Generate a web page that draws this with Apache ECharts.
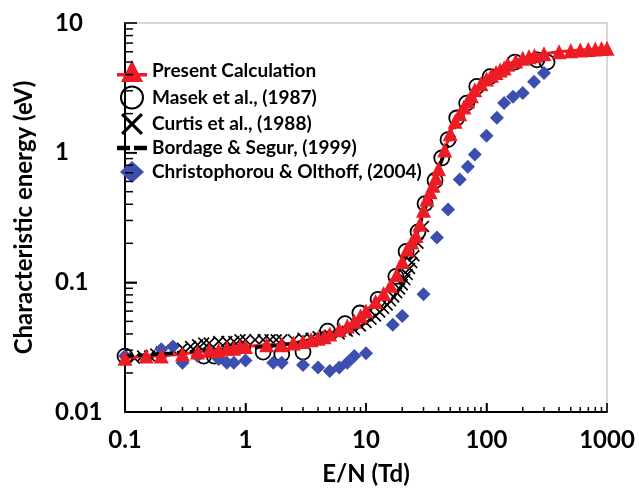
<!DOCTYPE html>
<html>
<head>
<meta charset="utf-8">
<script src="https://cdn.jsdelivr.net/npm/echarts@6/dist/echarts.min.js"></script>
<style>
    html, body {margin: 0; padding: 0; background: #fff;}
    #chart {width: 639px; height: 491px;}
</style>
</head>
<body>
<div id="chart"></div>
<script>
// E/N (Td) and characteristic energy (eV)
var presentEN = [0.1, 0.15, 0.2, 0.3, 0.4, 0.5, 0.6, 0.7, 0.8, 0.9, 1, 1.5, 2, 2.5, 3, 3.5, 4, 4.5, 5, 6, 7, 8, 9, 10,
    12, 14, 16, 18, 20, 22, 24, 26, 28, 30, 32, 34, 36, 38, 40, 45, 50, 55, 60, 65, 70, 75, 80, 90, 100,
    110, 120, 130, 140, 150, 175, 200, 225, 250, 300, 400, 500, 600, 700, 800, 900, 1000];
var presentEk = [0.026, 0.027, 0.027, 0.028, 0.029, 0.03, 0.03, 0.031, 0.031, 0.032, 0.032, 0.033, 0.033, 0.034, 0.035, 0.036, 0.037, 0.038, 0.04, 0.043, 0.046, 0.05, 0.055, 0.06,
    0.071, 0.082, 0.095, 0.115, 0.145, 0.18, 0.205, 0.23, 0.28, 0.36, 0.44, 0.5, 0.56, 0.64, 0.75, 1.05, 1.4, 1.75, 2.0, 2.25, 2.5, 2.75, 3.05, 3.4, 3.7,
    3.95, 4.15, 4.35, 4.5, 4.8, 5.1, 5.35, 5.5, 5.6, 5.8, 6.0, 6.1, 6.2, 6.25, 6.3, 6.35, 6.4];

var masekEN = [0.1, 0.45, 0.55, 1.4, 2, 3, 4.8, 6.7, 8.9, 12.6, 17.7, 21.5, 27, 30.9, 37.4, 42.5, 47.9, 56.6, 68.5, 83, 107, 172, 262, 318];
var masekEk = [0.027, 0.027, 0.027, 0.029, 0.028, 0.029, 0.042, 0.048, 0.058, 0.074, 0.111, 0.173, 0.245, 0.405, 0.61, 0.91, 1.26, 1.85, 2.41, 3.24, 3.86, 5.0, 5.2, 5.0];

var curtisEN = [0.12, 0.14, 0.16, 0.18, 0.2, 0.25, 0.3, 0.35, 0.4, 0.45, 0.5, 0.6, 0.7, 0.8, 0.9, 1, 1.2, 1.4, 1.6, 1.8, 2, 2.5, 3, 3.5, 4, 4.5, 5,
    6, 7, 8, 9, 10, 11, 12, 13, 14, 15, 16, 17, 18, 19, 20, 21, 22, 23, 24, 25, 27, 30];
var curtisEk = [0.026, 0.027, 0.027, 0.028, 0.029, 0.03, 0.031, 0.032, 0.033, 0.034, 0.034, 0.035, 0.035, 0.035, 0.036, 0.036, 0.036, 0.036, 0.036, 0.036, 0.036, 0.036, 0.037, 0.037, 0.038, 0.039, 0.039,
    0.04, 0.042, 0.043, 0.046, 0.049, 0.052, 0.055, 0.059, 0.063, 0.067, 0.072, 0.077, 0.083, 0.089, 0.096, 0.105, 0.115, 0.128, 0.142, 0.16, 0.2, 0.27];

var bordageEN = [0.1, 0.2, 0.5, 1, 2, 3, 5, 7, 10, 12, 15, 20, 25, 30, 35, 40, 45, 50, 60, 70, 80, 100, 120, 150, 200, 250, 300];
var bordageEk = [0.027, 0.028, 0.03, 0.031, 0.033, 0.035, 0.04, 0.046, 0.058, 0.068, 0.088, 0.14, 0.21, 0.34, 0.52, 0.75, 1.0, 1.3, 1.9, 2.45, 3.0, 3.7, 4.1, 4.6, 5.0, 5.15, 5.2];

var christoEN = [0.1, 0.2, 0.25, 0.3, 0.4, 0.5, 0.6, 0.7, 0.8, 1, 1.7, 2, 3, 4, 5, 6, 7, 8, 10, 16.7, 20, 30, 38.8, 48, 60, 70, 80, 100, 122, 140, 166, 200, 248, 300];
var christoEk = [0.027, 0.0305, 0.032, 0.024, 0.027, 0.029, 0.0256, 0.024, 0.024, 0.025, 0.024, 0.024, 0.023, 0.022, 0.0207, 0.022, 0.024, 0.027, 0.0284, 0.047, 0.055, 0.081, 0.222, 0.365, 0.62, 0.78, 0.97, 1.35, 1.86, 2.42, 2.7, 2.89, 3.52, 4.12];

var seriesNames = ['Present Calculation', 'Masek et al., (1987)', 'Curtis et al., (1988)', 'Bordage & Segur, (1999)', 'Christophorou & Olthoff, (2004)'];

// axis ticks
var xMajor = [0.1, 1, 10, 100, 1000];
var yMajor = [0.01, 0.1, 1, 10];
var xDecades = [0.1, 1, 10, 100];
var yDecades = [0.01, 0.1, 1];
function minorTicks(decades) {
    var out = [];
    decades.forEach(function (d) {
        for (var k = 2; k <= 9; k++) out.push(+(d * k).toPrecision(3));
    });
    return out;
}
var xMinor = minorTicks(xDecades);
var yMinor = minorTicks(yDecades);

function pairs(xs, ys) {
    return xs.map(function (x, i) { return [x, ys[i]]; });
}

var FONT = 'Lato';
var RED = '#ed1c24';
var BLUE = '#3d4fae';
var X_MIN = 0.1, X_MAX = 1000, Y_MIN = 0.01, Y_MAX = 10;
var crossPath = 'path://M0,1L1,0L5,4L9,0L10,1L6,5L10,9L9,10L5,6L1,10L0,9L4,5Z';
// legend icons
var triIcon = 'path://M15,0L26,22L4,22Z M0,13h30v3.5h-30Z';
var dashIcon = 'path://M0,0h13v4.5h-13Z M17,0h13v4.5h-13Z';
var diamondIcon = 'path://M12,0L24,11L12,22L0,11Z';

var labelFont = {fontFamily: FONT, fontWeight: 'bold', fontSize: 24, color: '#000'};

// inside ticks drawn through the axes' own scales
function xTicks(values, len) {
    return {
        type: 'custom', silent: true, z: 5,
        data: values.map(function (v) { return [v, Y_MIN]; }),
        renderItem: function (params, api) {
            var p = api.coord([api.value(0), Y_MIN]);
            return {type: 'line', shape: {x1: p[0], y1: p[1], x2: p[0], y2: p[1] - len}, style: {stroke: '#000', lineWidth: 1.5}};
        }
    };
}
function yTicks(values, len) {
    return {
        type: 'custom', silent: true, z: 5,
        data: values.map(function (v) { return [X_MIN, v]; }),
        renderItem: function (params, api) {
            var p = api.coord([X_MIN, api.value(1)]);
            return {type: 'line', shape: {x1: p[0], y1: p[1], x2: p[0] + len, y2: p[1]}, style: {stroke: '#000', lineWidth: 1.5}};
        }
    };
}
// light frame on top and right
var frameSeries = {
    type: 'custom', silent: true, z: 1,
    data: [[X_MAX, Y_MAX]],
    renderItem: function (params, api) {
        var tl = api.coord([X_MIN, Y_MAX]), tr = api.coord([X_MAX, Y_MAX]), br = api.coord([X_MAX, Y_MIN]);
        return {
            type: 'polyline',
            shape: {points: [tl, tr, br]},
            style: {stroke: '#cccccc', lineWidth: 1.5, fill: null}
        };
    }
};

var chart = echarts.init(document.getElementById('chart'));
chart.setOption({
    backgroundColor: '#fff',
    animation: false,
    grid: {left: 125, right: 32, top: 23, bottom: 78},
    legend: {
        data: [
            {name: seriesNames[0], icon: triIcon},
            {name: seriesNames[1]},
            {name: seriesNames[2]},
            {name: seriesNames[3], icon: dashIcon},
            {name: seriesNames[4], icon: diamondIcon}
        ],
        orient: 'vertical',
        left: 112,
        top: 55,
        itemWidth: 30,
        itemHeight: 22,
        itemGap: 3.5,
        textStyle: {fontFamily: FONT, fontWeight: 'bold', fontSize: 19, color: '#000'}
    },
    xAxis: {
        type: 'log',
        min: X_MIN,
        max: X_MAX,
        name: 'E/N (Td)',
        nameLocation: 'middle',
        nameGap: 50,
        nameTextStyle: labelFont,
        axisLine: {show: true, lineStyle: {color: '#000', width: 2}},
        axisTick: {show: true, inside: true, length: 9, lineStyle: {color: '#000', width: 1.5}},
        axisLabel: Object.assign({margin: 16, formatter: function (v) { return String(v); }}, labelFont),
        splitLine: {show: false}
    },
    yAxis: {
        type: 'log',
        min: Y_MIN,
        max: Y_MAX,
        name: 'Characteristic energy (eV)',
        nameLocation: 'middle',
        nameGap: 89,
        nameTextStyle: labelFont,
        axisLine: {show: true, lineStyle: {color: '#000', width: 2}},
        axisTick: {show: true, inside: true, length: 12, lineStyle: {color: '#000', width: 1.5}},
        axisLabel: Object.assign({align: 'left', margin: 70, formatter: function (v) { return String(v); }}, labelFont),
        splitLine: {show: false}
    },
    series: [
        frameSeries,
        xTicks(xMajor, 9),
        xTicks(xMinor, 5),
        yTicks(yMajor, 12),
        yTicks(yMinor, 8),
        {
            name: seriesNames[0],
            type: 'line',
            data: pairs(presentEN, presentEk),
            symbol: 'triangle',
            symbolSize: 15,
            itemStyle: {color: RED, opacity: 1},
            lineStyle: {color: RED, width: 3}
        }, {
            name: seriesNames[2],
            type: 'scatter',
            data: pairs(curtisEN, curtisEk),
            symbol: crossPath,
            symbolSize: 12,
            itemStyle: {color: '#000', opacity: 1}
        }, {
            name: seriesNames[1],
            type: 'scatter',
            data: pairs(masekEN, masekEk),
            symbol: 'circle',
            symbolSize: 15,
            itemStyle: {color: 'rgba(0,0,0,0)', borderColor: '#000', borderWidth: 1.8, opacity: 1}
        }, {
            name: seriesNames[3],
            type: 'line',
            data: pairs(bordageEN, bordageEk),
            symbol: 'none',
            smooth: true,
            itemStyle: {color: '#000'},
            lineStyle: {color: '#000', width: 3.5, type: [9, 4]}
        }, {
            name: seriesNames[4],
            type: 'scatter',
            data: pairs(christoEN, christoEk),
            symbol: 'diamond',
            symbolSize: 14,
            itemStyle: {color: BLUE, opacity: 1}
        }
    ]
});
</script>
</body>
</html>
